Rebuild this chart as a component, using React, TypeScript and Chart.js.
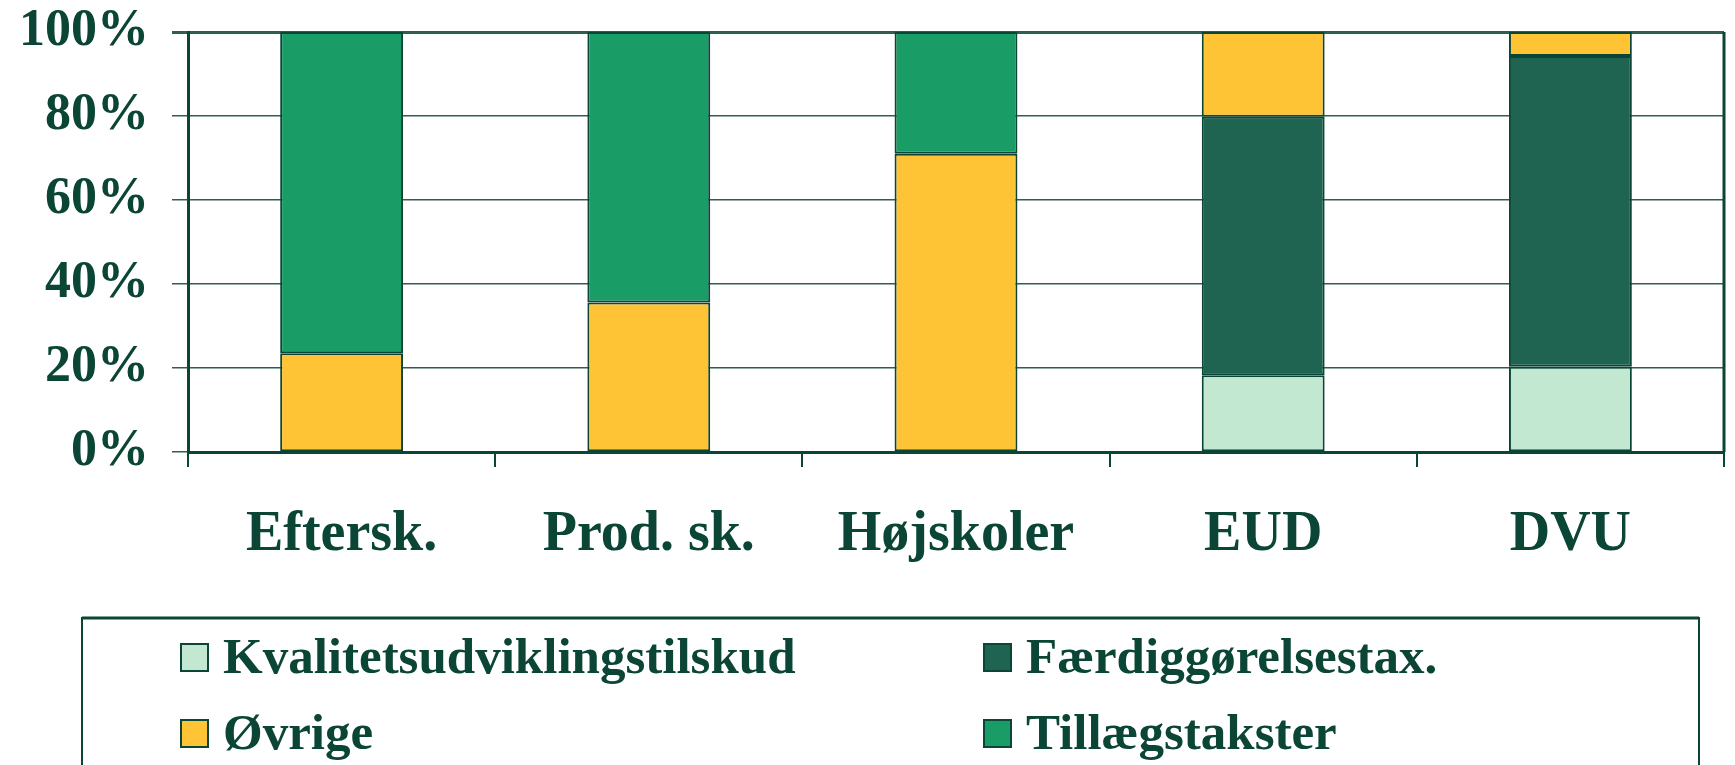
import React, { useEffect, useRef } from "react";
import { Chart, registerables } from "chart.js";

Chart.register(...registerables);

const categories = ["Eftersk.", "Prod. sk.", "Højskoler", "EUD", "DVU"];
const kvalitetsudvikling = [0, 0, 0, 18.3, 20.3];
const faerdiggoerelse = [0, 0, 0, 61.5, 74.0];
const oevrige = [23.5, 35.6, 71.0, 20.2, 5.7];
const tillaegstakster = [76.5, 64.4, 29.0, 0, 0];
const seriesNames = ["Kvalitetsudviklingstilskud", "Færdiggørelsestax.", "Øvrige", "Tillægstakster"];
const yTicks = [0, 20, 40, 60, 80, 100];

const TEXT = "#0B4535";
const FONT = "'Liberation Serif', 'Times New Roman', serif";

const rightBorder = {
  id: "rightBorder",
  afterDatasetsDraw(chart: any) {
    const { ctx, chartArea } = chart;
    ctx.save();
    ctx.strokeStyle = TEXT;
    ctx.lineWidth = 3;
    ctx.beginPath();
    ctx.moveTo(chartArea.right, chartArea.top);
    ctx.lineTo(chartArea.right, chartArea.bottom);
    ctx.stroke();
    ctx.restore();
  },
};

const boxLegend = {
  id: "boxLegend",
  afterDraw(chart: any) {
    const { ctx } = chart;
    ctx.save();
    ctx.strokeStyle = TEXT;
    ctx.lineWidth = 2;
    ctx.strokeRect(82, 618, 1617, 200);
    ctx.lineWidth = 3;
    ctx.beginPath();
    ctx.moveTo(82, 618);
    ctx.lineTo(1699, 618);
    ctx.stroke();
    const colX = [180, 983];
    const rowY = [643, 719];
    chart.data.datasets.forEach((ds: any, i: number) => {
      const x = colX[i % 2];
      const y = rowY[Math.floor(i / 2)];
      ctx.fillStyle = ds.backgroundColor;
      ctx.fillRect(x, y, 29, 29);
      ctx.lineWidth = 2;
      ctx.strokeStyle = TEXT;
      ctx.strokeRect(x + 1, y + 1, 27, 27);
      ctx.fillStyle = TEXT;
      ctx.font = `bold 51px ${FONT}`;
      ctx.textBaseline = "alphabetic";
      ctx.textAlign = "left";
      ctx.fillText(ds.label, x + 43, y + 30);
    });
    ctx.restore();
  },
};

export default function App() {
  const ref = useRef<HTMLCanvasElement | null>(null);
  useEffect(() => {
    if (!ref.current) return;
    const colors = ["#C2E8D2", "#1F6450", "#FEC435", "#1A9C66"];
    const values = [kvalitetsudvikling, faerdiggoerelse, oevrige, tillaegstakster];
    const chart = new Chart(ref.current, {
      type: "bar",
      data: {
        labels: categories,
        datasets: values.map((v, i) => ({
          label: seriesNames[i],
          data: v,
          backgroundColor: colors[i],
          borderColor: TEXT,
          borderWidth: 2,
          borderSkipped: false,
          barPercentage: 0.8,
          categoryPercentage: 0.5,
        })),
      },
      options: {
        animation: false,
        responsive: false,
        devicePixelRatio: 1,
        layout: { padding: { top: 32, right: 11, bottom: 0, left: 0 } },
        plugins: { legend: { display: false }, tooltip: { enabled: false } },
        scales: {
          x: {
            stacked: true,
            grid: {
              offset: true,
              drawOnChartArea: false,
              drawTicks: true,
              tickLength: 15,
              color: TEXT,
              lineWidth: 2,
            },
            border: { color: TEXT, width: 3 },
            ticks: {
              color: TEXT,
              padding: 35,
              font: { family: FONT, size: 56, weight: "bold" },
            },
            afterFit: (s: any) => {
              s.height = 313;
              s.paddingLeft = 0;
              s.paddingRight = 0;
            },
          },
          y: {
            stacked: true,
            min: 0,
            max: 100,
            afterBuildTicks: (s: any) => {
              s.ticks = yTicks.map((v) => ({ value: v }));
            },
            grid: {
              color: "#2f5f50",
              lineWidth: (c: any) => (c.tick && c.tick.value === 100 ? 3 : 1.5),
              tickLength: 16,
            },
            border: { color: TEXT, width: 3 },
            ticks: {
              color: TEXT,
              padding: 23,
              font: { family: FONT, size: 52, weight: "bold" },
              callback: (v: any) => `${v}%`,
            },
            afterFit: (s: any) => {
              s.width = 188;
              s.paddingTop = 0;
              s.paddingBottom = 0;
            },
          },
        },
      },
      plugins: [rightBorder, boxLegend],
    });
    return () => chart.destroy();
  }, []);
  return (
    <div style={{ width: 1735, height: 765, overflow: "hidden" }}>
      <style>{`body{margin:0}`}</style>
      <canvas ref={ref} width={1735} height={765} style={{ display: "block" }} />
    </div>
  );
}
